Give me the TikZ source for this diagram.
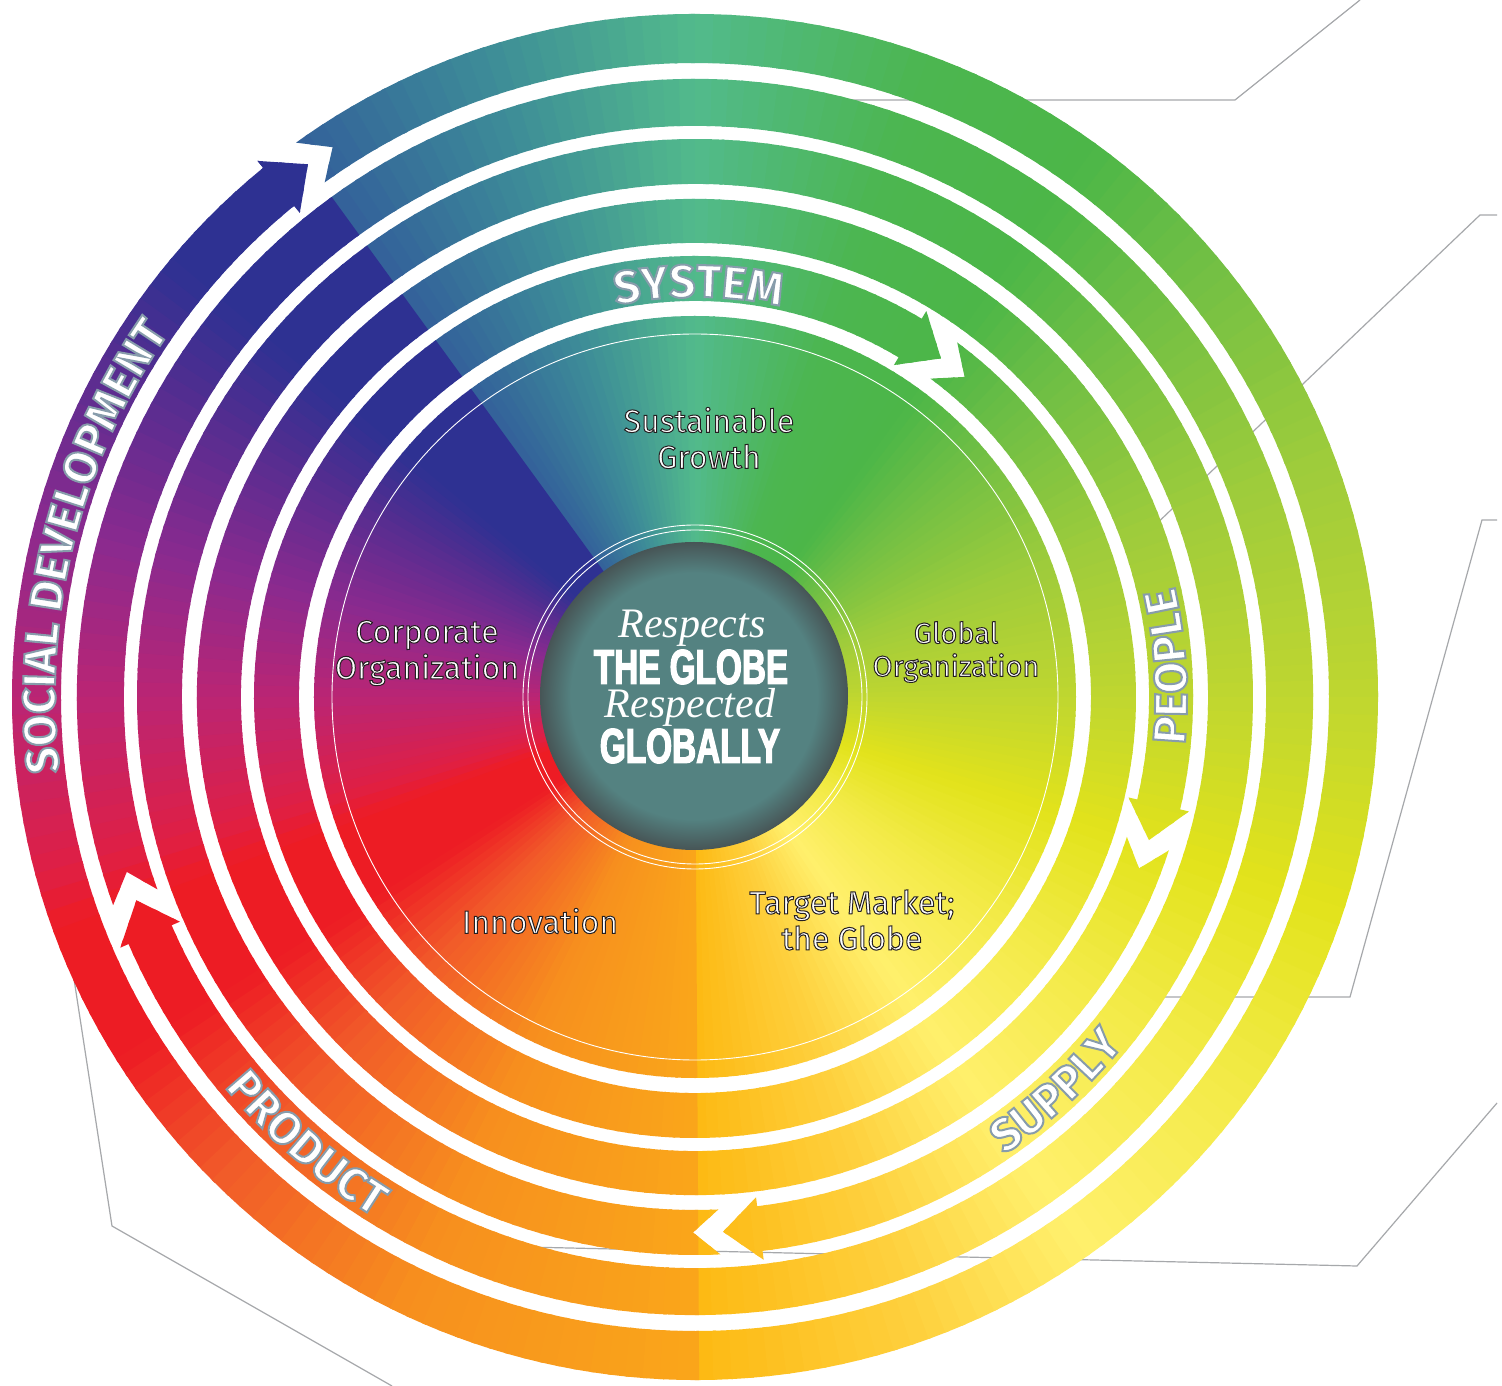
\documentclass[tikz,border=0pt]{standalone}
\usepackage{fontspec}
\setmainfont{Fira Sans}
\newfontfamily\globefont{Liberation Sans}[FakeStretch=0.68,FakeBold=2.5]
\newfontfamily\respfont{Liberation Serif}
\usetikzlibrary{decorations.text}

\definecolor{cGold}{HTML}{FDB913}
\definecolor{cSun}{HTML}{FED13F}
\definecolor{cLemon}{HTML}{FFF06C}
\definecolor{cYellow}{HTML}{F2EA45}
\definecolor{cLime}{HTML}{E2E31B}
\definecolor{cYG}{HTML}{BFD630}
\definecolor{cGrass}{HTML}{9FCC3B}
\definecolor{cLeaf}{HTML}{72BF44}
\definecolor{cGreen}{HTML}{4CB648}
\definecolor{cGreenB}{HTML}{4CB650}
\definecolor{cSea}{HTML}{52BA8C}
\definecolor{cTeal}{HTML}{3D8C98}
\definecolor{cSteel}{HTML}{33609A}
\definecolor{cNavy}{HTML}{2E3192}
\definecolor{cIndigo}{HTML}{552D90}
\definecolor{cPurple}{HTML}{8A2A8F}
\definecolor{cMagenta}{HTML}{BA2574}
\definecolor{cCrimson}{HTML}{DF1F45}
\definecolor{cRed}{HTML}{ED1C24}
\definecolor{cVermil}{HTML}{F15A29}
\definecolor{cOrange}{HTML}{F7901E}
\definecolor{cAmber}{HTML}{FAA61A}
\definecolor{globeteal}{HTML}{548281}
\definecolor{globeedge}{HTML}{475556}
\definecolor{leadgray}{HTML}{A6A8AB}

\pgfdeclareradialshading{globeshade}{\pgfpointorigin}{color(0bp)=(globeteal); color(20bp)=(globeteal); color(25bp)=(globeedge); color(50bp)=(globeedge)}

\newcommand\darkline{\special{pdf:literal direct 0.14 0.12 0.13 RG 1 w 2 Tr}}
\newcommand\blueline{\special{pdf:literal direct 0.53 0.61 0.67 RG 2 w 2 Tr}}
\newcommand\plainline{\special{pdf:literal direct 0 Tr}}
\newcommand\labelink{\color{white}\darkline}
\newcommand\ringfont{\fontsize{46}{46}\selectfont\bfseries\color{white}\blueline}

\def\headlen{37}
\def\gaplen{30}
\def\headext{9}
\newcommand\setband[4]{%
  \pgfmathsetmacro\rgMid{(#2+#3)/2}%
  \pgfmathsetmacro\rgHead{\headlen/\rgMid*180/pi}%
  \pgfmathsetmacro\rgGap{\gaplen/\rgMid*180/pi}%
  \pgfmathsetmacro\rgNotch{\headlen*((#3-#2)/2)/((#3-#2)/2+\headext)/\rgMid*180/pi}%
  \pgfmathsetmacro\rgApex{#4-\rgGap}%
  \pgfmathsetmacro\rgCorner{#4-\rgGap+\rgNotch}%
  \pgfmathsetmacro\rgBase{#4+\rgHead-360}%
  \pgfmathsetmacro\rgOutE{#3+\headext}%
  \pgfmathsetmacro\rgInE{#2-\headext}%
  \expandafter\xdef\csname#1\endcsname{(\rgApex:\rgMid pt) -- (\rgCorner:#3pt) arc[start angle=\rgCorner, end angle=\rgBase, radius=#3pt] -- (\rgBase:\rgOutE pt) -- (#4:\rgMid pt) -- (\rgBase:\rgInE pt) -- (\rgBase:#2pt) arc[start angle=\rgBase, end angle=\rgCorner, radius=#2pt] -- cycle}%
}

\newcommand\wheelfill{%
  \foreach \angA/\angB/\colA/\colB in {-90/-70/cGold/cSun, -70/-55/cSun/cLemon, -55/-35/cLemon/cYellow, -35/-18/cYellow/cLime, -18/0/cLime/cYG, 0/20/cYG/cGrass, 20/40/cGrass/cLeaf, 40/54/cLeaf/cGreen, 54/70/cGreen/cGreenB, 70/90/cGreenB/cSea, 90/108/cSea/cTeal, 108/126/cTeal/cSteel, 126/140/cNavy/cNavy, 140/150/cNavy/cIndigo, 150/165/cIndigo/cPurple, 165/180/cPurple/cMagenta, 180/195/cMagenta/cCrimson, 195/200/cCrimson/cRed, 200/212/cRed/cRed, 212/225/cRed/cVermil, 225/245/cVermil/cOrange, 245/270/cOrange/cAmber}{%
    \pgfmathtruncatemacro\nsteps{max(1,round((\angB-\angA)/1.5))}%
    \foreach \ii in {1,...,\nsteps}{%
      \pgfmathsetmacro\sA{\angA+(\ii-1)*(\angB-\angA)/\nsteps}%
      \pgfmathsetmacro\sB{\angA+\ii*(\angB-\angA)/\nsteps+0.35}%
      \pgfmathtruncatemacro\mixp{100*(\ii-0.5)/\nsteps}%
      \fill[fill={\colB!\mixp!\colA}] (0,0) -- (\sA:700pt) arc[start angle=\sA, end angle=\sB, radius=700pt] -- cycle;%
    }%
  }%
}

\tikzset{
  leader/.style={draw=leadgray, line width=1.2pt},
  sector/.style={align=center, font=\fontsize{32}{36}\selectfont\labelink, execute at end node=\plainline},
  motto/.style={text=white, execute at begin node=\plainline},
  ringtext/.style={decorate, decoration={text along path, text align=center, text={|\ringfont|#1}}},
  thinring/.style={draw=white, line width=0.9pt},
}

\setband{ringsocial}{634}{683}{126}
\setband{ringproduct}{571}{618}{200}
\setband{ringsupply}{513}{558}{-87}
\setband{ringpeople}{454}{498}{-17.5}
\setband{ringsystem}{396}{441}{54}

\begin{document}
\begin{tikzpicture}[x=1pt,y=1pt]
\useasboundingbox (-695,-689) rectangle (807,697);
\fill[white] (-695,-689) rectangle (807,697);
\coordinate (l1a) at (665,697);
\coordinate (l1b) at (540,597);
\coordinate (l1c) at (135,597);
\coordinate (l2a) at (802,482);
\coordinate (l2b) at (785,482);
\coordinate (l2c) at (455,167);
\coordinate (l3a) at (802,177);
\coordinate (l3b) at (787,177);
\coordinate (l3c) at (655,-300);
\coordinate (l3d) at (470,-300);
\coordinate (l4a) at (802,-406);
\coordinate (l4b) at (662,-569);
\coordinate (l4c) at (-169,-550);
\coordinate (l5a) at (-621,-282);
\coordinate (l5b) at (-583,-529);
\coordinate (l5c) at (-303,-689);
\draw[leader] (l1a) -- (l1b) -- (l1c);
\draw[leader] (l2a) -- (l2b) -- (l2c);
\draw[leader] (l3a) -- (l3b) -- (l3c) -- (l3d);
\draw[leader] (l4a) -- (l4b) -- (l4c);
\draw[leader] (l5a) -- (l5b) -- (l5c);
\begin{scope}
\clip \ringsocial \ringproduct \ringsupply \ringpeople \ringsystem (0,0) circle[radius=381pt];
\wheelfill
\end{scope}
\draw[thinring] (0,0) circle[radius=363pt];
\draw[thinring] (0,0) circle[radius=167pt];
\draw[thinring] (0,0) circle[radius=172pt];
\shade[shading=globeshade] (-1,1) circle[radius=154pt];
\node[sector] (sustain) at (14,259) {Sustainable\\Growth};
\node[sector] (corporate) at (-268,44) {Corporate\\Organization};
\node[sector, font=\fontsize{29}{33}\selectfont\labelink] (globalorg) at (261,45) {Global\\Organization};
\node[sector] (innovation) at (-155,-224) {Innovation};
\node[sector] (target) at (157,-223) {Target Market;\\the Globe};
\node[motto, font=\respfont\itshape\fontsize{42}{42}\selectfont] (respects) at (-3,69) {Respects};
\node[motto, font=\globefont\bfseries\fontsize{49}{49}\selectfont] (theglobe) at (-4,30) {THE GLOBE};
\node[motto, font=\respfont\itshape\fontsize{42}{42}\selectfont] (respected) at (-5,-10) {Respected};
\node[motto, font=\globefont\bfseries\fontsize{49}{49}\selectfont] (globally) at (-5,-49) {GLOBALLY};
\path[ringtext=SYSTEM] (125:400pt) arc[start angle=125, end angle=54, radius=400pt];
\path[ringtext=SOCIAL DEVELOPMENT] (216:640pt) arc[start angle=216, end angle=116, radius=640pt];
\path[ringtext=PEOPLE] (-26.3:492pt) arc[start angle=-26.3, end angle=33.7, radius=492pt];
\path[ringtext=SUPPLY] (-72.5:552pt) arc[start angle=-72.5, end angle=-22.5, radius=552pt];
\path[ringtext=PRODUCT] (204:611pt) arc[start angle=204, end angle=254, radius=611pt];
\end{tikzpicture}
\end{document}
